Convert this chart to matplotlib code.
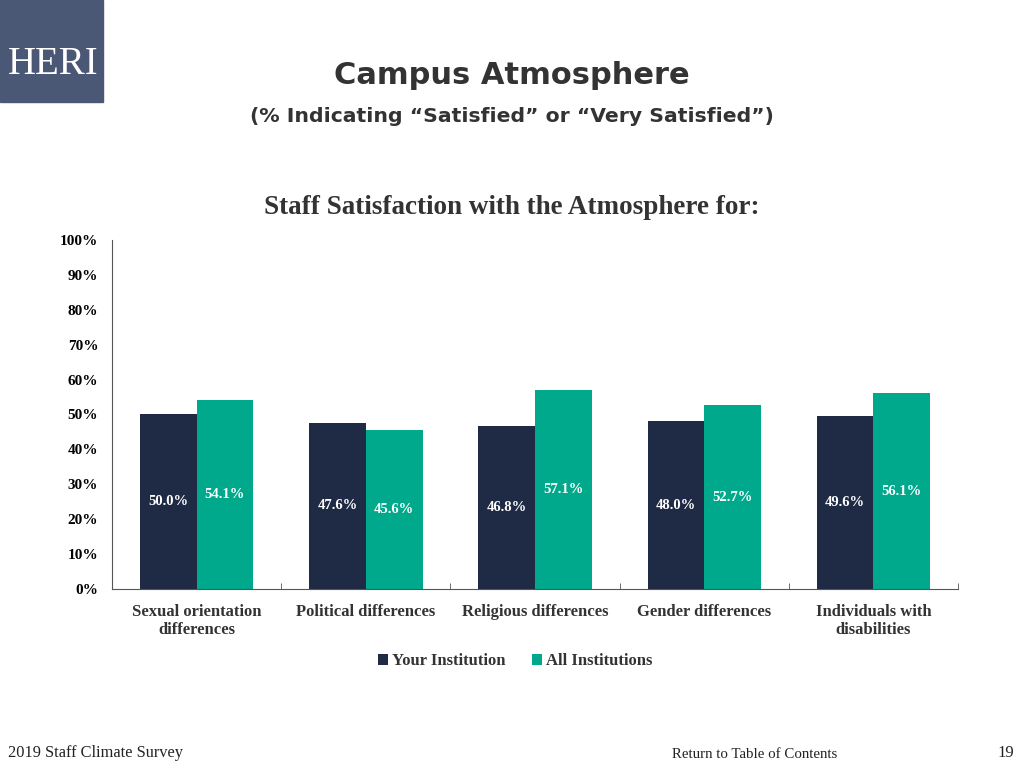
import matplotlib
matplotlib.use("Agg")
import matplotlib.pyplot as plt
import numpy as np
from matplotlib.patches import Rectangle

categories = ["Sexual orientation\ndifferences", "Political differences",
              "Religious differences", "Gender differences",
              "Individuals with\ndisabilities"]
your_inst = [50.0, 47.6, 46.8, 48.0, 49.6]
all_inst = [54.1, 45.6, 57.1, 52.7, 56.1]
series_names = ["Your Institution", "All Institutions"]

NAVY = "#1f2a44"
GREEN = "#00a88c"
SERIF = "Liberation Serif"

fig = plt.figure(figsize=(10.24, 7.68), dpi=100)
ax = fig.add_axes([0.1094, 0.2331, 0.8262, 0.4544])

x = np.arange(len(categories))
w = 0.335
b1 = ax.bar(x - w / 2, your_inst, w, color=NAVY, label=series_names[0])
b2 = ax.bar(x + w / 2, all_inst, w, color=GREEN, label=series_names[1])

for bars in (b1, b2):
    for r in bars:
        h = r.get_height()
        ax.text(r.get_x() + r.get_width() / 2, h / 2, "%.1f%%" % h,
                ha="center", va="center", color="white", fontsize=10.5,
                fontweight="bold", family=SERIF)

ax.set_xlim(-0.5, len(categories) - 0.5)
ax.set_ylim(0, 100)
ax.set_yticks(range(0, 101, 10))
ax.set_yticklabels(["%d%%" % v for v in range(0, 101, 10)],
                   family=SERIF, fontweight="bold", fontsize=11)
ax.tick_params(axis="y", length=0, pad=10)
ax.set_xticks(x)
ax.set_xticklabels(categories, family=SERIF, fontweight="bold", fontsize=12,
                   color="#333333", linespacing=1.15)
ax.tick_params(axis="x", length=0, pad=11)
# small separator ticks between categories
ax.set_xticks(np.arange(-0.5, len(categories)), minor=True)
ax.tick_params(axis="x", which="minor", length=4, direction="in",
               color="#555555")
for s in ["top", "right"]:
    ax.spines[s].set_visible(False)
ax.spines["left"].set_color("#555555")
ax.spines["bottom"].set_color("#555555")

leg = fig.legend(handles=[b1, b2], labels=series_names, loc="center",
                 bbox_to_anchor=(0.503, 0.139), ncol=2, frameon=False,
                 handlelength=0.6, handleheight=0.6, handletextpad=0.25,
                 columnspacing=1.6,
                 prop={"family": SERIF, "weight": "bold", "size": 12})
for t in leg.get_texts():
    t.set_color("#333333")

# HERI logo box
fig.patches.append(Rectangle((0, 1 - 102 / 768), 103 / 1024, 102 / 768,
                             transform=fig.transFigure, color="#4a5876",
                             zorder=0))
fig.text(53 / 1024, 1 - 64 / 768, "HERI", ha="center", va="center",
         color="white", fontsize=28, family=SERIF)

fig.text(0.5, 1 - 75 / 768, "Campus Atmosphere", ha="center", va="center",
         fontsize=22, fontweight="bold", color="#333333", family="DejaVu Sans")
fig.text(0.5, 1 - 116 / 768,
         "(% Indicating \u201cSatisfied\u201d or \u201cVery Satisfied\u201d)",
         ha="center", va="center", fontsize=14.7, fontweight="bold",
         color="#333333", family="DejaVu Sans")
fig.text(0.5, 1 - 207 / 768, "Staff Satisfaction with the Atmosphere for:",
         ha="center", va="center", fontsize=19.5, fontweight="bold",
         color="#333333", family=SERIF)

fig.text(8 / 1024, 1 - 753 / 768, "2019 Staff Climate Survey", ha="left",
         va="center", fontsize=11.8, family=SERIF, color="#222222")
fig.text(755 / 1024, 1 - 754 / 768, "Return to Table of Contents",
         ha="center", va="center", fontsize=10.7, family=SERIF, color="#222222")
fig.text(1006 / 1024, 1 - 753 / 768, "19", ha="center", va="center",
         fontsize=12, family=SERIF, color="#222222")

fig.savefig("out.png", dpi=100)
